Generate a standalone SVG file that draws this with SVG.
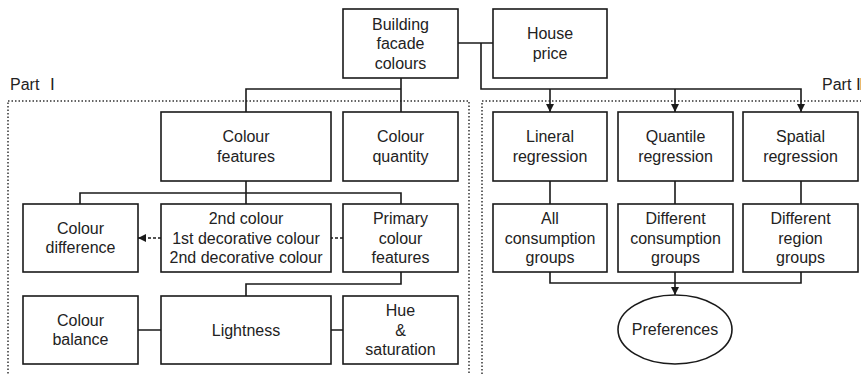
<svg xmlns="http://www.w3.org/2000/svg" width="861" height="374" viewBox="0 0 861 374">
<style>
.box{fill:#fff;stroke:#1a1a1a;stroke-width:1.6}
.t{font-family:"Liberation Sans",Arial,sans-serif;font-size:16px;fill:#222;text-anchor:middle}
.lbl{font-family:"Liberation Sans",Arial,sans-serif;font-size:16px;fill:#222}
.c{fill:none;stroke:#1a1a1a;stroke-width:1.6}
.d{fill:none;stroke:#1a1a1a;stroke-width:1.6;stroke-dasharray:3 2}
.frame{fill:none;stroke:#333;stroke-width:1.5;stroke-dasharray:1.5 2}
</style>
<defs>
<marker id="ah" viewBox="0 0 10 10" refX="10" refY="5" markerWidth="8" markerHeight="8" markerUnits="userSpaceOnUse" orient="auto">
<path d="M0,0 L10,5 L0,10 Z" fill="#1a1a1a"/>
</marker>
</defs>
<g id="frames">
<rect class="frame" x="8" y="101" width="461" height="300"/>
<rect class="frame" x="482" y="101" width="400" height="300"/>
<text class="lbl" x="10" y="90">Part<tspan x="50">Ⅰ</tspan></text>
<text class="lbl" x="822" y="90">Part<tspan x="856">Ⅱ</tspan></text>
</g>
<g id="connectors">
<path class="c" d="M458 43 H493"/>
<path class="c" d="M481 43 V89 H801 V112" marker-end="url(#ah)"/>
<path class="c" d="M550 89 V112" marker-end="url(#ah)"/>
<path class="c" d="M675 89 V112" marker-end="url(#ah)"/>
<path class="c" d="M401 78 V89 H246 V112 M401 89 V112"/>
<path class="c" d="M246 181 V204 M246 193 H80 V204 M246 193 H401 V204"/>
<path class="c" d="M401 272 V284 H246 V296"/>
<path class="c" d="M138 330 H161 M331 330 H343"/>
<path class="d" d="M343 238 H331"/>
<path class="d" d="M161 238 H138" marker-end="url(#ah)"/>
<path class="c" d="M550 181 V204 M675 181 V204 M801 181 V204"/>
<path class="c" d="M550 272 V283 H801 V272"/>
<path class="c" d="M675 272 V295" marker-end="url(#ah)"/>
</g>
<g id="building"><rect class="box" x="343" y="9" width="115" height="69"/><text class="t" x="400.5" y="29.5">Building</text><text class="t" x="400.5" y="49">facade</text><text class="t" x="400.5" y="68.5">colours</text></g>
<g id="house"><rect class="box" x="493" y="9" width="114" height="69"/><text class="t" x="550" y="39.25">House</text><text class="t" x="550" y="58.75">price</text></g>
<g id="features"><rect class="box" x="161" y="112" width="170" height="69"/><text class="t" x="246" y="142.25">Colour</text><text class="t" x="246" y="161.75">features</text></g>
<g id="quantity"><rect class="box" x="343" y="112" width="115" height="69"/><text class="t" x="400.5" y="142.25">Colour</text><text class="t" x="400.5" y="161.75">quantity</text></g>
<g id="lineral"><rect class="box" x="493" y="112" width="114" height="69"/><text class="t" x="550" y="142.25">Lineral</text><text class="t" x="550" y="161.75">regression</text></g>
<g id="quantile"><rect class="box" x="618" y="112" width="115" height="69"/><text class="t" x="675.5" y="142.25">Quantile</text><text class="t" x="675.5" y="161.75">regression</text></g>
<g id="spatial"><rect class="box" x="743" y="112" width="115" height="69"/><text class="t" x="800.5" y="142.25">Spatial</text><text class="t" x="800.5" y="161.75">regression</text></g>
<g id="difference"><rect class="box" x="23" y="204" width="115" height="68"/><text class="t" x="80.5" y="233.75">Colour</text><text class="t" x="80.5" y="253.25">difference</text></g>
<g id="secondary"><rect class="box" x="161" y="204" width="170" height="68"/><text class="t" x="246" y="224">2nd colour</text><text class="t" x="246" y="243.5">1st decorative colour</text><text class="t" x="246" y="263">2nd decorative colour</text></g>
<g id="primary"><rect class="box" x="343" y="204" width="115" height="68"/><text class="t" x="400.5" y="224">Primary</text><text class="t" x="400.5" y="243.5">colour</text><text class="t" x="400.5" y="263">features</text></g>
<g id="allgroups"><rect class="box" x="493" y="204" width="114" height="68"/><text class="t" x="550" y="224">All</text><text class="t" x="550" y="243.5">consumption</text><text class="t" x="550" y="263">groups</text></g>
<g id="diffcons"><rect class="box" x="618" y="204" width="115" height="68"/><text class="t" x="675.5" y="224">Different</text><text class="t" x="675.5" y="243.5">consumption</text><text class="t" x="675.5" y="263">groups</text></g>
<g id="diffregion"><rect class="box" x="743" y="204" width="115" height="68"/><text class="t" x="800.5" y="224">Different</text><text class="t" x="800.5" y="243.5">region</text><text class="t" x="800.5" y="263">groups</text></g>
<g id="balance"><rect class="box" x="23" y="296" width="115" height="68"/><text class="t" x="80.5" y="325.75">Colour</text><text class="t" x="80.5" y="345.25">balance</text></g>
<g id="lightness"><rect class="box" x="161" y="296" width="170" height="68"/><text class="t" x="246" y="335.5">Lightness</text></g>
<g id="hue"><rect class="box" x="343" y="296" width="115" height="68"/><text class="t" x="400.5" y="316">Hue</text><text class="t" x="400.5" y="335.5">&amp;</text><text class="t" x="400.5" y="355">saturation</text></g>
<g id="preferences"><ellipse class="box" cx="675" cy="329.5" rx="57" ry="34.5"/><text class="t" x="675" y="335">Preferences</text></g>
</svg>
